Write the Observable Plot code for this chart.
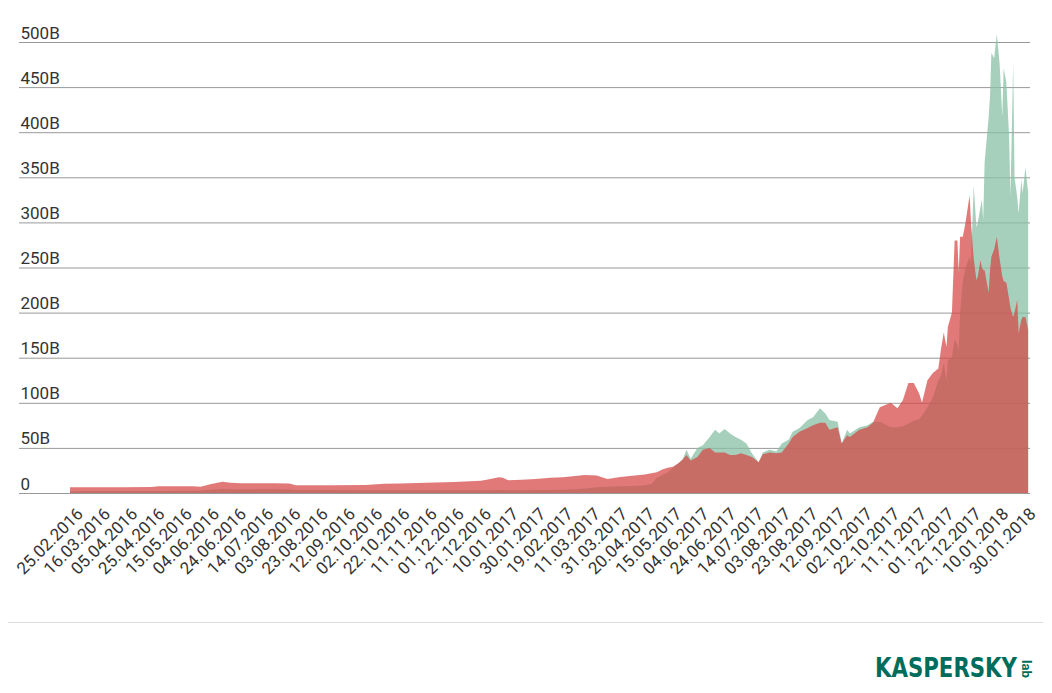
<!DOCTYPE html>
<html><head><meta charset="utf-8">
<script src="https://cdn.jsdelivr.net/npm/d3@7"></script>
<script src="https://cdn.jsdelivr.net/npm/@observablehq/plot@0.6"></script>
<style>
body{margin:0;background:#fff;width:1052px;height:693px;overflow:hidden;position:relative;font-family:Roboto,sans-serif;}
#chart{position:absolute;left:0;top:0;}
#sep{position:absolute;left:8px;top:622px;width:1035px;height:1px;background:#ddd;}
#logo{position:absolute;left:860px;top:640px;}
</style></head><body>
<div id="chart"></div><div id="sep"></div>
<svg id="logo" width="190" height="50">
  <text x="15" y="37" font-family="'Liberation Sans Narrow','DejaVu Sans Condensed','DejaVu Sans',sans-serif" font-weight="bold" font-size="27" fill="#006d5c" textLength="142" lengthAdjust="spacingAndGlyphs">KASPERSKY</text>
  <text transform="translate(162,20) rotate(90)" font-family="Roboto,sans-serif" font-weight="bold" font-size="13" fill="#006d5c">lab</text>
</svg>
<script>
const dates = ["2016-02-25","2016-03-16","2016-04-05","2016-04-25","2016-04-30","2016-05-16","2016-05-25","2016-05-31","2016-06-07","2016-06-16","2016-06-22","2016-06-30","2016-07-25","2016-08-04","2016-08-09","2016-09-03","2016-09-29","2016-10-13","2016-10-24","2016-11-13","2016-12-03","2016-12-23","2016-12-28","2017-01-05","2017-01-08","2017-01-12","2017-01-22","2017-02-01","2017-02-12","2017-02-21","2017-03-04","2017-03-09","2017-03-18","2017-03-23","2017-03-26","2017-04-03","2017-04-13","2017-04-23","2017-04-29","2017-05-04","2017-05-09","2017-05-14","2017-05-18","2017-05-22","2017-05-25","2017-05-28","2017-05-31","2017-06-05","2017-06-09","2017-06-14","2017-06-18","2017-06-21","2017-06-25","2017-06-29","2017-07-03","2017-07-07","2017-07-11","2017-07-15","2017-07-20","2017-07-23","2017-07-28","2017-08-02","2017-08-06","2017-08-11","2017-08-14","2017-08-19","2017-08-25","2017-08-29","2017-09-03","2017-09-07","2017-09-10","2017-09-16","2017-09-19","2017-09-23","2017-09-25","2017-10-02","2017-10-08","2017-10-12","2017-10-17","2017-10-25","2017-10-30","2017-11-03","2017-11-07","2017-11-11","2017-11-15","2017-11-17","2017-11-21","2017-11-25","2017-11-29","2017-12-01","2017-12-03","2017-12-05","2017-12-06","2017-12-09","2017-12-11","2017-12-13","2017-12-14","2017-12-15","2017-12-17","2017-12-19","2017-12-22","2017-12-23","2017-12-25","2017-12-27","2017-12-28","2017-12-30","2017-12-31","2018-01-01","2018-01-02","2018-01-05","2018-01-06","2018-01-07","2018-01-09","2018-01-11","2018-01-13","2018-01-15","2018-01-16","2018-01-18","2018-01-20","2018-01-21","2018-01-23","2018-01-24","2018-01-26","2018-01-27","2018-01-29","2018-01-30","2018-02-01","2018-02-03"];
const bitcoin = [6.3,6.3,6.4,6.6,7.6,7.5,7.4,7.0,9.6,12.5,11.5,10.7,10.7,10.5,8.6,8.5,9.0,10.2,10.6,11.5,12.3,13.5,15.0,17.5,17.0,14.2,14.8,15.6,16.8,17.5,19.0,20.0,19.5,17.0,15.5,17.5,19.0,20.5,22,23,26,28,29,33,37,42,36,40,48,50,45,45,45,42,42,44,42,40,34,43,45,44,45,55,62,68,72,75,78,78,70,73,55,64,62,70,73,78,95,100,94,103,122,122,110,100,125,133,138,160,178,162,184,200,280,280,245,284,284,300,330,300,260,236,240,258,250,247,247,222,247,262,270,284,260,240,235,233,215,205,195,200,214,177,192,195,195,181];
const altcoins = [2.0,2.2,2.2,2.2,2.2,2.4,2.5,2.8,3.5,4.4,4.2,4.0,4.2,4.0,3.3,3.2,3.0,3.0,3.0,3.0,3.0,3.0,3.0,3.3,3.3,3.0,3.0,3.2,3.4,3.6,4.5,5.0,6.5,7.0,7.0,7.5,7.8,8.5,10,17,20,23,28,33,37,48,38,50,53,62,70,66,71,66,62,59,55,44,34,45,48,46,55,59,68,72,81,84,94,88,81,79,55,70,66,73,75,79,79,73,73,74,77,80,82,86,95,106,125,130,144,125,147,151,170,165,158,200,235,250,262,255,341,295,300,317,325,303,366,417,440,488,482,509,477,417,471,455,395,328,477,350,328,310,347,333,361,333];
const xTickLabels = ["25.02.2016","16.03.2016","05.04.2016","25.04.2016","15.05.2016","04.06.2016","24.06.2016","14.07.2016","03.08.2016","23.08.2016","12.09.2016","02.10.2016","22.10.2016","11.11.2016","01.12.2016","21.12.2016","10.01.2017","30.01.2017","19.02.2017","11.03.2017","31.03.2017","20.04.2017","15.05.2017","04.06.2017","24.06.2017","14.07.2017","03.08.2017","23.08.2017","12.09.2017","02.10.2017","22.10.2017","11.11.2017","01.12.2017","21.12.2017","10.01.2018","30.01.2018"];
const yTicks = [0,50,100,150,200,250,300,350,400,450,500];
const yTickLabels = ["0","50B","100B","150B","200B","250B","300B","350B","400B","450B","500B"];

// row position in the source table (one row per day, five days missing between 20.04 and 15.05.2017)
const start = Date.UTC(2016,1,25);
function row(iso){
  const d = Math.round((Date.parse(iso) - start)/864e5);
  return d <= 420 ? d : d >= 445 ? d - 5 : 420 + (d - 420) * 0.8;
}
function rowFromLabel(s){ const [dd,mm,yy] = s.split("."); return row(`${yy}-${mm}-${dd}`); }

const data = dates.map((d,i) => ({row: row(d), btc: bitcoin[i], alt: altcoins[i]}));
const ticks = xTickLabels.map(s => ({row: rowFromLabel(s), label: s}));

const plot = Plot.plot({
  width: 1052, height: 610,
  marginTop: 42, marginBottom: 117, marginLeft: 19, marginRight: 22,
  x: {domain: [0, 700], range: [70, 70 + 700*1.361], axis: null},
  y: {domain: [0, 500], axis: null},
  style: {fontFamily: "Roboto, sans-serif", fontSize: "17px", color: "#333", background: "transparent"},
  marks: [
    Plot.ruleY(yTicks, {stroke: "#999", strokeWidth: 1}),
    Plot.areaY(data, {x: "row", y: "alt", fill: "#88c0a5", fillOpacity: 0.75}),
    Plot.areaY(data, {x: "row", y: "btc", fill: "#d64545", fillOpacity: 0.72}),
    Plot.text(yTicks, {y: d => d, text: (d,i) => yTickLabels[i], frameAnchor: "left", textAnchor: "start", lineAnchor: "bottom", dx: 1, dy: -4, fill: "#333", fontSize: 17}),
    Plot.text(ticks, {x: "row", y: 0, text: "label", rotate: -45, textAnchor: "end", lineAnchor: "top", dx: 5, dy: 13, fill: "#333", fontSize: 17})
  ]
});
document.getElementById("chart").appendChild(plot);
</script>
</body></html>
